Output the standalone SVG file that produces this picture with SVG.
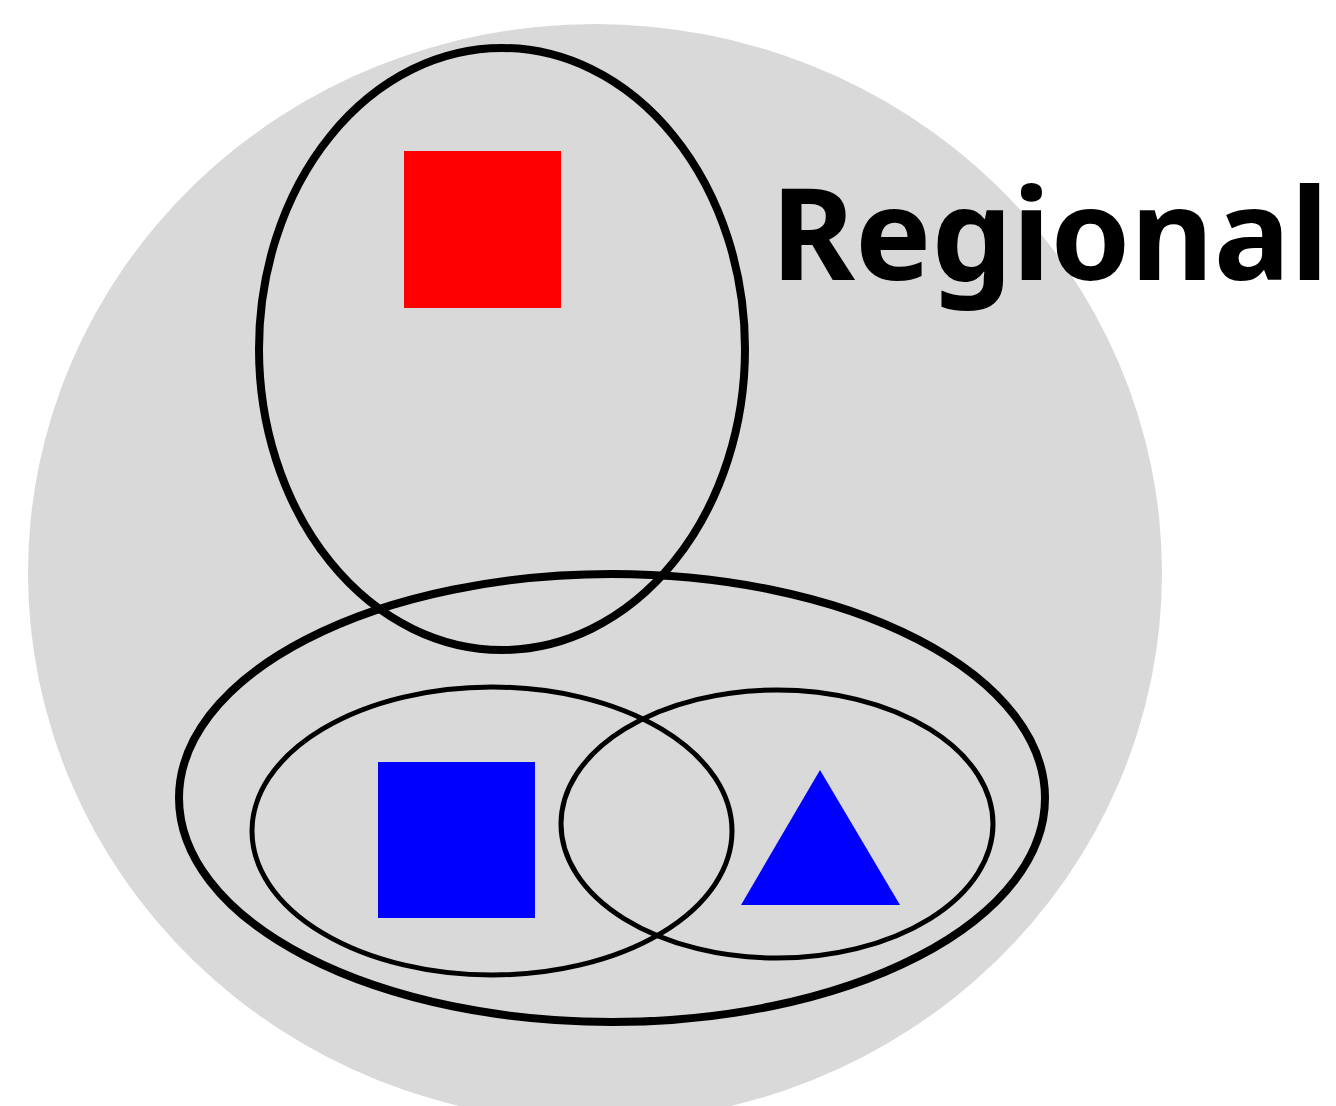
<svg xmlns="http://www.w3.org/2000/svg" width="1336" height="1106" viewBox="0 0 1336 1106">
<style>
.ring{fill:none;stroke:#000}
.thick{stroke-width:8}
.thin{stroke-width:5}
.label{font-family:"Noto Sans","Open Sans",sans-serif;font-weight:bold;fill:#000}
</style>
<rect width="1336" height="1106" fill="#fff"/>
<g id="background">
<ellipse cx="595" cy="573" rx="567" ry="549" fill="#d9d9d9"/>
</g>
<g id="regions">
<ellipse id="top-ellipse" class="ring thick" cx="502" cy="349" rx="243" ry="301"/>
<ellipse id="bottom-ellipse" class="ring thick" cx="612" cy="798" rx="433" ry="224"/>
<ellipse id="left-ellipse" class="ring thin" cx="492" cy="831" rx="240" ry="144"/>
<ellipse id="right-ellipse" class="ring thin" cx="777" cy="824" rx="216" ry="134"/>
</g>
<g id="red-square"><rect x="404" y="151" width="157" height="157" fill="#ff0000"/></g>
<g id="blue-square"><rect x="378" y="762" width="157" height="156" fill="#0000ff"/></g>
<g id="blue-triangle"><polygon points="820,770 741,905 900,905" fill="#0000ff"/></g>
<g id="title"><text class="label" x="771" y="280" font-size="128">Regional</text></g>
</svg>
